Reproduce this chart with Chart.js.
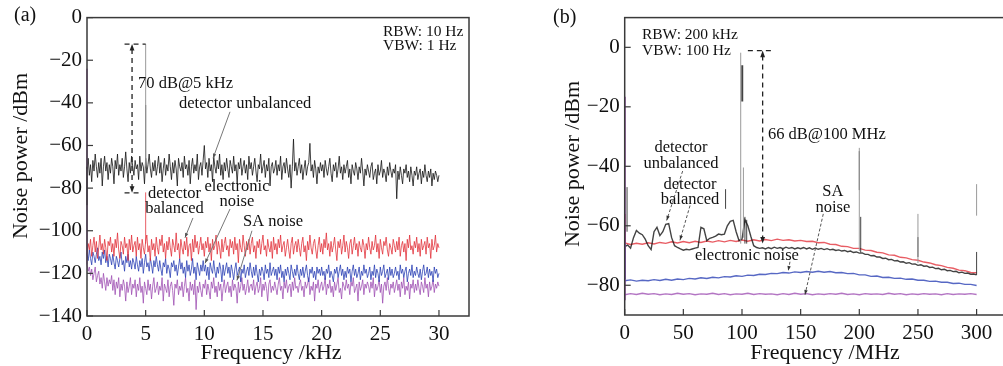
<!DOCTYPE html>
<html>
<head>
<meta charset="utf-8">
<script src="https://cdn.jsdelivr.net/npm/chart.js@4"></script>
<style>
  html, body { margin: 0; padding: 0; background: #fff; overflow: hidden; width: 1003px; height: 366px; }
  #wrap { position: relative; width: 1003px; height: 366px; overflow: hidden; }
  canvas { position: absolute; top: 0; }
  #chartA { left: 0; }
  #chartB { left: 500px; }
</style>
</head>
<body>
<div id="wrap">
  <canvas id="chartA" width="490" height="366"></canvas>
  <canvas id="chartB" width="540" height="366"></canvas>
</div>
<script>
// ---------- panel (a): 0 - 30 kHz, one sample every 0.1 kHz ----------
var stepA = 0.1;
var unbalancedA = [
  -71,-66,-74,-69,-77,-67,-72,-64,-70,-75,-68,-73,-66,-79,-70,-65,-72,-68,-76,-69,
  -73,-66,-70,-78,-67,-71,-64,-74,-69,-72,-66,-75,-70,-63,-71,-77,-68,-73,-65,-70,
  -74,-67,-71,-69,-76,-65,-72,-68,-70,-78,-66,-73,-69,-64,-71,-75,-68,-72,-67,-74,
  -70,-65,-73,-68,-77,-71,-66,-74,-69,-72,-64,-70,-76,-68,-73,-67,-71,-79,-66,-70,
  -72,-68,-75,-65,-71,-69,-74,-67,-78,-70,-66,-73,-69,-72,-64,-76,-70,-68,-74,-67,
  -60,-71,-68,-75,-66,-72,-69,-77,-65,-70,-73,-67,-71,-64,-74,-69,-76,-68,-72,-66,
  -71,-75,-67,-70,-73,-65,-72,-69,-78,-68,-71,-66,-74,-70,-67,-73,-69,-76,-65,-71,
  -68,-74,-70,-66,-72,-77,-69,-71,-64,-73,-70,-67,-75,-69,-72,-66,-79,-70,-68,-73,
  -71,-67,-74,-69,-72,-65,-76,-70,-68,-73,-66,-71,-75,-69,-80,-70,-57,-72,-68,-74,
  -70,-66,-73,-69,-76,-71,-67,-74,-70,-68,-59,-72,-69,-75,-67,-71,-78,-70,-73,-68,
  -72,-69,-75,-67,-71,-74,-70,-66,-73,-77,-69,-72,-68,-75,-71,-65,-73,-70,-76,-69,
  -73,-70,-67,-75,-71,-78,-69,-72,-74,-68,-71,-76,-70,-73,-66,-72,-79,-71,-74,-69,
  -72,-75,-70,-68,-76,-73,-71,-78,-69,-74,-72,-67,-75,-71,-73,-77,-70,-74,-68,-72,
  -75,-71,-73,-69,-85,-72,-76,-70,-74,-78,-71,-73,-69,-75,-72,-77,-70,-74,-79,-72,
  -74,-70,-76,-73,-71,-78,-72,-75,-69,-74,-77,-72,-75,-71,-79,-73,-76,-72,-74,-77,
  -74
];
var balancedA = [
  -111,-106,-109,-104,-112,-107,-103,-110,-105,-113,-108,-102,-109,-106,-111,-104,-108,-114,-105,-107,
  -103,-110,-106,-112,-104,-108,-101,-109,-113,-105,-107,-111,-103,-108,-106,-114,-104,-109,-102,-110,
  -107,-105,-112,-103,-109,-106,-113,-104,-108,-111,-105,-102,-110,-107,-114,-104,-109,-106,-112,-103,
  -108,-111,-104,-107,-102,-110,-106,-113,-105,-109,-103,-108,-112,-104,-107,-110,-101,-109,-106,-113,
  -104,-108,-111,-105,-109,-103,-112,-107,-106,-114,-104,-110,-102,-108,-105,-111,-107,-103,-109,-106,
  -112,-105,-108,-103,-110,-106,-114,-104,-109,-107,-102,-111,-105,-108,-113,-104,-110,-106,-103,-109,
  -107,-112,-104,-108,-105,-111,-103,-109,-106,-115,-104,-108,-110,-102,-107,-112,-105,-109,-104,-111,
  -106,-103,-110,-107,-113,-105,-108,-104,-111,-106,-102,-109,-107,-112,-104,-108,-110,-105,-113,-103,
  -109,-106,-111,-104,-108,-102,-110,-107,-105,-112,-108,-104,-109,-113,-106,-103,-111,-107,-105,-110,
  -104,-108,-112,-106,-103,-110,-107,-114,-105,-109,-102,-108,-111,-106,-104,-109,-113,-107,-103,-110,
  -106,-111,-104,-108,-101,-109,-106,-112,-105,-110,-107,-103,-109,-114,-105,-108,-104,-111,-107,-102,
  -110,-105,-108,-113,-106,-104,-111,-107,-103,-109,-106,-112,-105,-108,-110,-104,-107,-113,-106,-109,
  -103,-108,-111,-105,-109,-107,-102,-110,-106,-113,-104,-108,-111,-105,-107,-103,-109,-112,-106,-108,
  -111,-104,-107,-110,-105,-109,-103,-112,-107,-105,-110,-106,-114,-104,-108,-102,-109,-107,-111,-105,
  -108,-103,-110,-106,-112,-104,-109,-107,-105,-111,-103,-108,-106,-113,-104,-109,-107,-102,-110,-106,
  -108
];
var electronicA = [
  -111,-114,-109,-113,-116,-110,-112,-115,-111,-108,-114,-112,-116,-110,-113,-109,-115,-112,-117,-111,
  -113,-116,-111,-115,-118,-112,-114,-117,-113,-110,-116,-114,-119,-112,-115,-111,-117,-114,-118,-113,
  -115,-118,-112,-116,-119,-114,-117,-113,-120,-115,-111,-117,-115,-119,-113,-116,-120,-114,-117,-112,
  -116,-119,-114,-118,-121,-115,-117,-113,-120,-116,-118,-122,-115,-117,-114,-119,-116,-121,-117,-113,
  -118,-115,-120,-117,-122,-114,-119,-116,-121,-118,-113,-120,-117,-123,-115,-118,-121,-116,-119,-114,
  -119,-116,-121,-117,-123,-115,-118,-120,-114,-119,-122,-117,-120,-115,-118,-124,-116,-121,-118,-115,
  -120,-117,-122,-116,-119,-123,-118,-115,-121,-119,-117,-124,-118,-120,-116,-122,-119,-117,-121,-115,
  -119,-122,-117,-121,-116,-120,-124,-118,-121,-117,-119,-123,-116,-120,-118,-122,-115,-121,-119,-117,
  -121,-118,-123,-117,-120,-116,-122,-119,-124,-118,-121,-117,-120,-123,-116,-119,-122,-118,-121,-116,
  -120,-123,-118,-121,-117,-122,-119,-116,-121,-124,-118,-120,-117,-122,-119,-123,-117,-120,-118,-121,
  -117,-121,-119,-123,-118,-120,-116,-122,-119,-121,-124,-118,-120,-117,-122,-119,-116,-121,-118,-123,
  -119,-122,-117,-120,-118,-124,-119,-116,-121,-118,-122,-120,-117,-123,-119,-121,-116,-120,-118,-122,
  -120,-117,-123,-119,-121,-116,-122,-118,-120,-124,-117,-121,-119,-116,-122,-120,-118,-123,-117,-121,
  -118,-122,-120,-117,-121,-119,-123,-116,-120,-118,-122,-119,-117,-124,-120,-118,-121,-116,-122,-119,
  -121,-117,-120,-122,-118,-123,-119,-116,-121,-120,-117,-122,-118,-121,-119,-124,-117,-120,-118,-122,
  -120
];
var saNoiseA = [
  -116,-119,-117,-121,-118,-123,-120,-117,-124,-121,-119,-125,-122,-127,-120,-124,-128,-122,-126,-123,
  -125,-121,-128,-123,-130,-124,-127,-122,-131,-125,-128,-123,-126,-133,-124,-129,-126,-122,-130,-125,
  -127,-123,-131,-125,-128,-122,-129,-126,-134,-124,-127,-130,-123,-128,-125,-132,-126,-122,-129,-127,
  -124,-130,-126,-128,-122,-133,-125,-127,-129,-123,-131,-126,-124,-128,-135,-125,-127,-123,-130,-126,
  -128,-124,-131,-126,-122,-129,-127,-133,-124,-128,-125,-130,-123,-137,-126,-129,-124,-128,-131,-125,
  -127,-123,-130,-125,-128,-132,-124,-127,-122,-129,-126,-131,-124,-128,-125,-133,-127,-123,-129,-126,
  -124,-129,-126,-131,-123,-128,-125,-127,-134,-124,-129,-126,-122,-128,-125,-130,-127,-123,-129,-126,
  -125,-128,-123,-130,-126,-124,-129,-127,-122,-131,-125,-128,-124,-127,-133,-125,-123,-129,-126,-128,
  -124,-127,-130,-125,-122,-128,-126,-132,-124,-127,-123,-129,-126,-125,-131,-124,-128,-122,-127,-126,
  -129,-125,-123,-128,-126,-131,-124,-127,-125,-122,-130,-126,-128,-124,-133,-125,-127,-123,-129,-126,
  -124,-128,-126,-122,-130,-125,-127,-123,-129,-126,-131,-124,-128,-125,-122,-129,-127,-132,-124,-126,
  -128,-123,-127,-125,-130,-124,-126,-122,-129,-127,-125,-133,-124,-128,-126,-123,-130,-125,-127,-124,
  -126,-129,-124,-127,-122,-131,-125,-128,-126,-123,-129,-125,-134,-126,-124,-128,-122,-127,-130,-125,
  -127,-124,-129,-126,-123,-128,-125,-131,-124,-127,-122,-130,-126,-128,-124,-132,-125,-127,-123,-129,
  -125,-128,-123,-127,-130,-124,-126,-129,-122,-127,-125,-131,-124,-128,-126,-123,-129,-125,-127,-124,
  -126
];
// narrow lines: [frequency, low dBm, high dBm]
var linesGreyA = [[5.0, -70, -12.4]];
var linesBlackA = [[5.0, -70, -41], [0, -88, -70]];
var linesRedA = [[5.0, -106, -82]];
var linesPurpleA = [[0, -116, -24]];
var xTicksA = [0, 5, 10, 15, 20, 25, 30];
var yTicksA = [0, -20, -40, -60, -80, -100, -120, -140];

// ---------- panel (b): 0 - 300 MHz ----------
var stepB = 5;          // MHz, balanced / electronic / SA traces
var stepBlackB = 2.5;   // MHz, unbalanced trace
var unbalancedB = [
  -67.0, -66.5, -67.5, -64.0, -61.6, -62.5, -63.0, -64.5,
  -66.7, -68.0, -62.0, -60.5, -63.3, -62.0, -59.5, -59.3,
  -64.0, -66.7, -67.3, -67.8, -68.2, -67.9, -68.1, -67.8,
  -67.5, -67.3, -60.5, -61.0, -65.0, -64.2, -63.9, -63.5,
  -62.8, -63.0, -62.8, -60.0, -58.5, -58.2, -62.0, -65.0,
  -64.5, -58.0, -60.0, -63.5, -66.7, -67.3, -67.6, -67.4,
  -67.8, -67.3, -67.7, -67.2, -67.6, -67.3, -67.7, -67.2,
  -67.6, -67.3, -67.8, -67.4, -67.7, -67.3, -67.8, -67.4,
  -67.9, -67.5, -67.9, -67.6, -68.0, -67.7, -68.1, -67.9,
  -68.3, -68.1, -68.5, -68.3, -68.7, -68.5, -69.0, -68.8,
  -69.2, -69.1, -69.6, -69.6, -70.1, -70.0, -70.5, -70.5,
  -71.0, -70.9, -71.4, -71.3, -71.8, -71.7, -72.2, -72.1,
  -72.6, -72.4, -72.9, -72.8, -73.3, -73.1, -73.6, -73.5,
  -74.0, -73.9, -74.4, -74.3, -74.8, -74.6, -75.1, -75.0,
  -75.4, -75.3, -75.8, -75.6, -76.0, -75.9, -76.3, -76.2,
  -76.5
];
var balancedB = [
  -65.8, -66.3, -65.9, -66.2, -65.7, -66.1, -65.6, -65.9, -65.4, -65.8,
  -65.3, -65.7, -65.2, -65.6, -65.1, -65.5, -65.0, -65.4, -64.9, -65.3,
  -64.8, -65.2, -64.7, -65.1, -64.6, -65.0, -64.5, -64.9, -64.7, -65.1,
  -64.9, -65.3, -65.2, -65.7, -65.6, -66.2, -66.3, -66.9, -67.0, -67.6,
  -67.6, -68.2, -68.3, -68.9, -69.1, -69.8, -69.9, -70.6, -70.8, -71.4,
  -71.6, -72.2, -72.5, -73.1, -73.4, -74.0, -74.3, -74.9, -75.1, -75.7,
  -75.8
];
var electronicB = [
  -78.5, -78.2, -78.6, -78.3, -78.5, -78.1, -78.4, -78.0, -78.3, -77.9,
  -78.1, -77.7, -77.9, -77.5, -77.7, -77.3, -77.5, -77.1, -77.2, -76.8,
  -77.0, -76.6, -76.7, -76.3, -76.4, -76.0, -76.1, -75.7, -75.9, -75.5,
  -75.7, -75.4, -75.6, -75.3, -75.6, -75.4, -75.8, -75.7, -76.1, -76.0,
  -76.5, -76.5, -77.0, -76.9, -77.4, -77.3, -77.7, -77.6, -78.0, -77.9,
  -78.3, -78.3, -78.7, -78.6, -79.0, -79.0, -79.4, -79.3, -79.7, -79.7,
  -80.1
];
var saNoiseB = [
  -83.2, -82.8, -83.1, -82.7, -83.0, -82.8, -83.2, -82.9, -83.1, -82.7,
  -83.0, -82.8, -83.2, -82.9, -83.0, -82.7, -83.1, -82.8, -83.2, -82.9,
  -83.0, -82.7, -83.1, -82.8, -83.0, -82.9, -83.2, -82.8, -83.1, -82.7,
  -83.0, -82.8, -83.2, -82.9, -83.1, -82.8, -83.0, -82.7, -83.1, -82.9,
  -83.2, -82.8, -83.0, -82.9, -83.1, -82.7, -83.0, -82.8, -83.2, -82.9,
  -83.1, -82.8, -83.0, -82.9, -83.2, -82.8, -83.1, -82.9, -83.0, -82.8,
  -83.1
];
var linesGreyB = [[98.9, -66, -1.8], [101.2, -64, -40.4], [200, -68.5, -33.8], [250, -72.5, -56], [300, -56.6, -46]];
var linesBoldB = [[100.2, -18.2, -6]];
var linesBlackB = [[86, -54.3, -47.7], [102.5, -66, -57], [104, -66, -58], [200, -48, -34.9],
  [201.2, -69, -57], [250, -70.5, -63.8], [300, -76.5, -68.8], [2, -62, -47]];
var linesPurpleB = [[0.4, -85, -16.6]];
var linesRedB = [[0.4, -66, -56]];
var linesBlueB = [[0.4, -78, -60.4]];
var xTicksB = [0, 50, 100, 150, 200, 250, 300];
var yTicksB = [0, -20, -40, -60, -80];

// colours
var cBlack = 'rgba(20,20,20,0.8)';
var cRed = 'rgba(226,48,56,0.78)';
var cBlue = 'rgba(40,62,180,0.78)';
var cPurple = 'rgba(158,78,178,0.78)';
var cGrey = '#9a9a9a';
var serif = '"Liberation Serif", "DejaVu Serif", serif';

function trace(values, step, color, width) {
  return {
    data: values.map(function (v, i) { return { x: +(i * step).toFixed(2), y: v }; }),
    borderColor: color, borderWidth: width || 1, pointRadius: 0, tension: 0, clip: 6
  };
}

function lines(list, color, width) {
  return list.map(function (s) {
    return {
      data: [{ x: s[0], y: s[1] }, { x: s[0], y: s[2] }],
      borderColor: color, borderWidth: width || 1, pointRadius: 0, clip: 6
    };
  });
}

function minusLabel(v) {
  return v < 0 ? '\u2212' + Math.abs(v) : String(v);
}

function seg(ctx, x1, y1, x2, y2, dash) {
  ctx.setLineDash(dash || []);
  ctx.beginPath(); ctx.moveTo(x1, y1); ctx.lineTo(x2, y2); ctx.stroke();
  ctx.setLineDash([]);
}

// small filled arrow head at (x, y) pointing along angle ang
function head(ctx, x, y, ang, size) {
  size = size || 6;
  ctx.beginPath();
  ctx.moveTo(x, y);
  ctx.lineTo(x - size * Math.cos(ang - 0.35), y - size * Math.sin(ang - 0.35));
  ctx.lineTo(x - size * Math.cos(ang + 0.35), y - size * Math.sin(ang + 0.35));
  ctx.closePath(); ctx.fill();
}

function leader(ctx, x1, y1, x2, y2, dash) {
  seg(ctx, x1, y1, x2, y2, dash);
  head(ctx, x2, y2, Math.atan2(y2 - y1, x2 - x1), 5);
}

function txt(ctx, s, x, y, align) {
  ctx.textAlign = align || 'left';
  ctx.fillText(s, x, y);
}

// frame, inward ticks, axis titles and annotations
function framePlugin(cfg) {
  return {
    id: 'frame',
    afterDraw: function (chart) {
      var ctx = chart.ctx, a = chart.chartArea, xs = chart.scales.x, ys = chart.scales.y;
      ctx.save();
      ctx.strokeStyle = '#3a3a3a';
      ctx.lineWidth = 1.5;
      ctx.strokeRect(a.left, a.top, a.right - a.left, a.bottom - a.top);
      ctx.lineWidth = 1.2;
      cfg.xTicks.forEach(function (v) {
        var p = xs.getPixelForValue(v);
        seg(ctx, p, a.bottom, p, a.bottom - 6);
      });
      cfg.yTicks.forEach(function (v) {
        var p = ys.getPixelForValue(v);
        seg(ctx, a.left, p, a.left + 6, p);
      });
      ctx.fillStyle = '#111';
      ctx.textBaseline = 'middle';
      ctx.font = '22px ' + serif;
      txt(ctx, cfg.xTitle[0], cfg.xTitle[1], cfg.xTitle[2], 'center');
      ctx.save();
      ctx.translate(cfg.yTitle[1], cfg.yTitle[2]);
      ctx.rotate(-Math.PI / 2);
      txt(ctx, cfg.yTitle[0], 0, 0, 'center');
      ctx.restore();
      ctx.font = '20px ' + serif;
      txt(ctx, cfg.tag[0], cfg.tag[1], cfg.tag[2]);
      ctx.font = '16.5px ' + serif;
      ctx.strokeStyle = '#222';
      cfg.notes(ctx,
        function (v) { return xs.getPixelForValue(v); },
        function (v) { return ys.getPixelForValue(v); });
      ctx.restore();
    }
  };
}

function makeScales(xmin, xmax, xTicks, ymin, ymax, yTicks, yWidth, xHeight) {
  var tickFont = { family: serif, size: 21 };
  return {
    x: {
      type: 'linear', min: xmin, max: xmax,
      grid: { display: false, drawTicks: false },
      border: { display: false },
      afterBuildTicks: function (s) { s.ticks = xTicks.map(function (v) { return { value: v }; }); },
      afterFit: function (s) { s.height = xHeight; },
      ticks: { font: tickFont, color: '#111', padding: 6, maxRotation: 0, callback: minusLabel }
    },
    y: {
      type: 'linear', min: ymin, max: ymax,
      grid: { display: false, drawTicks: false },
      border: { display: false },
      afterBuildTicks: function (s) { s.ticks = yTicks.map(function (v) { return { value: v }; }); },
      afterFit: function (s) { s.width = yWidth; },
      ticks: { font: tickFont, color: '#111', padding: 5, callback: minusLabel }
    }
  };
}

var baseOptions = function (scales, padRight) {
  return {
    responsive: false,
    animation: false,
    devicePixelRatio: 1,
    layout: { padding: { left: 0, top: 15, right: padRight, bottom: 0 } },
    plugins: { legend: { display: false }, tooltip: { enabled: false } },
    scales: scales
  };
};

// ---- chart (a)
var dataA = [].concat(
  lines(linesGreyA, cGrey, 1),
  lines(linesBlackA, cBlack, 1),
  lines(linesRedA, cRed, 1),
  lines(linesPurpleA, cPurple, 1.5),
  [trace(unbalancedA, stepA, cBlack),
   trace(balancedA, stepA, cRed),
   trace(electronicA, stepA, cBlue),
   trace(saNoiseA, stepA, cPurple)]
);

new Chart(document.getElementById('chartA'), {
  type: 'line',
  data: { datasets: dataA },
  options: baseOptions(makeScales(0, 32.56, xTicksA, -140, 0, yTicksA, 87, 50), 21),
  plugins: [framePlugin({
    xTicks: xTicksA, yTicks: yTicksA,
    xTitle: ['Frequency /kHz', 271, 353],
    yTitle: ['Noise power /dBm', 21, 156],
    tag: ['(a)', 14, 16],
    notes: function (ctx, X, Y) {
      ctx.lineWidth = 1.3;
      seg(ctx, X(3.2), Y(-12.4), X(5.0), Y(-12.4), [5, 4]);
      seg(ctx, X(3.84), Y(-12.4) + 5, X(3.84), Y(-82.2) - 5, [5, 4]);
      ctx.fillStyle = '#222';
      head(ctx, X(3.84), Y(-12.4), -Math.PI / 2, 7);
      head(ctx, X(3.84), Y(-82.2), Math.PI / 2, 7);
      seg(ctx, X(3.2), Y(-82.2), X(4.6), Y(-82.2), [5, 4]);
      ctx.fillStyle = '#111';
      txt(ctx, '70 dB@5 kHz', X(4.35), Y(-31.2));
      txt(ctx, 'detector unbalanced', X(7.84), Y(-40.5));
      txt(ctx, 'detector', X(7.46), Y(-82.8), 'center');
      txt(ctx, 'balanced', X(7.46), Y(-89.8), 'center');
      txt(ctx, 'electronic', X(12.78), Y(-79.1), 'center');
      txt(ctx, 'noise', X(12.78), Y(-86.5), 'center');
      txt(ctx, 'SA noise', X(13.3), Y(-95.8));
      ctx.font = '15.5px ' + serif;
      txt(ctx, 'RBW: 10 Hz', X(25.23), Y(-6.5));
      txt(ctx, 'VBW: 1 Hz', X(25.23), Y(-13.5));
      ctx.strokeStyle = '#777'; ctx.fillStyle = '#555'; ctx.lineWidth = 1;
      leader(ctx, X(12.19), Y(-44.2), X(10.74), Y(-66.0));
      leader(ctx, X(9.03), Y(-94.0), X(8.35), Y(-103.3));
      leader(ctx, X(12.19), Y(-89.8), X(10.06), Y(-115.3));
      leader(ctx, X(14.06), Y(-100.0), X(12.78), Y(-123.3));
    }
  })]
});

// ---- chart (b)
var dataB = [].concat(
  lines(linesGreyB, cGrey, 1),
  lines(linesBoldB, cBlack, 2),
  lines(linesBlackB, cBlack, 1),
  lines(linesPurpleB, cPurple, 1.5),
  lines(linesRedB, cRed, 1.5),
  lines(linesBlueB, cBlue, 1.5),
  [trace(unbalancedB, stepBlackB, cBlack, 1.4),
   trace(balancedB, stepB, cRed, 1.4),
   trace(electronicB, stepB, cBlue, 1.4),
   trace(saNoiseB, stepB, cPurple, 1.4)]
);

new Chart(document.getElementById('chartB'), {
  type: 'line',
  data: { datasets: dataB },
  options: baseOptions(makeScales(0, 337, xTicksB, -90, 10, yTicksB, 124.7, 51), 20),
  plugins: [framePlugin({
    xTicks: xTicksB, yTicks: yTicksB,
    xTitle: ['Frequency /MHz', 325, 353],
    yTitle: ['Noise power /dBm', 73, 164],
    tag: ['(b)', 53, 18],
    notes: function (ctx, X, Y) {
      ctx.lineWidth = 1.3;
      seg(ctx, X(105), Y(-1.1), X(127), Y(-1.1), [5, 4]);
      seg(ctx, X(117.6), Y(-1.1) + 5, X(117.6), Y(-66) - 5, [5, 4]);
      ctx.fillStyle = '#222';
      head(ctx, X(117.6), Y(-1.1), -Math.PI / 2, 7);
      head(ctx, X(117.6), Y(-66), Math.PI / 2, 7);
      ctx.fillStyle = '#111';
      txt(ctx, '66 dB@100 MHz', X(122.1), Y(-29.2));
      txt(ctx, 'detector', X(48), Y(-33.9), 'center');
      txt(ctx, 'unbalanced', X(48), Y(-39.2), 'center');
      txt(ctx, 'detector', X(55.7), Y(-46.2), 'center');
      txt(ctx, 'balanced', X(55.7), Y(-51.2), 'center');
      txt(ctx, 'electronic noise', X(104.2), Y(-69.9), 'center');
      txt(ctx, 'SA', X(177.5), Y(-48.6), 'center');
      txt(ctx, 'noise', X(177.5), Y(-53.9), 'center');
      ctx.font = '15.5px ' + serif;
      txt(ctx, 'RBW: 200 kHz', X(14.7), Y(4.1));
      txt(ctx, 'VBW: 100 Hz', X(14.7), Y(-1.2));
      ctx.strokeStyle = '#555'; ctx.fillStyle = '#333'; ctx.lineWidth = 1;
      leader(ctx, X(49.4), Y(-41.6), X(35.8), Y(-58.2), [3, 2]);
      leader(ctx, X(55.7), Y(-53.2), X(47.1), Y(-64.9), [3, 2]);
      leader(ctx, X(140.9), Y(-72.1), X(139.4), Y(-75.1), [3, 2]);
      leader(ctx, X(169.3), Y(-56), X(153.7), Y(-83.2), [3, 2]);
    }
  })]
});
</script>
</body>
</html>
